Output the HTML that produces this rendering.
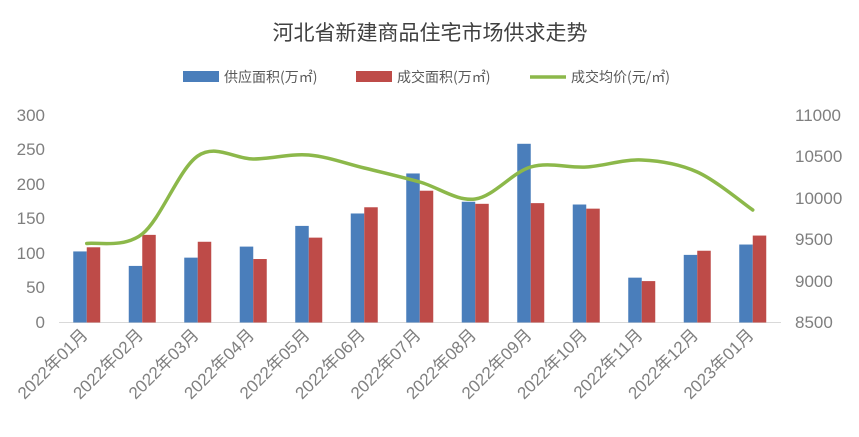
<!DOCTYPE html><html><head><meta charset="utf-8"><style>body{margin:0;background:#fff}</style></head><body>
<svg width="859" height="432" xmlns="http://www.w3.org/2000/svg" font-family="Liberation Sans, Noto Sans CJK SC, sans-serif">
<text x="430" y="40" text-anchor="middle" font-size="21" fill="#404040" font-family="Noto Sans CJK SC, sans-serif">河北省新建商品住宅市场供求走势</text>
<rect x="183" y="71" width="36" height="11" fill="#4a7ebb"/><text x="224" y="82" font-size="14" fill="#595959" font-family="Noto Sans CJK SC, sans-serif">供应面积(万㎡)</text>
<rect x="356" y="71" width="36" height="11" fill="#be4b48"/><text x="397" y="82" font-size="14" fill="#595959" font-family="Noto Sans CJK SC, sans-serif">成交面积(万㎡)</text>
<line x1="530" y1="77" x2="566" y2="77" stroke="#8cb84a" stroke-width="3.5"/><text x="571" y="82" font-size="14" fill="#595959" font-family="Noto Sans CJK SC, sans-serif">成交均价(元/㎡)</text>
<g font-size="17" fill="#7f7f7f" text-anchor="end">
<text x="45" y="121">300</text><text x="45" y="155">250</text><text x="45" y="190">200</text><text x="45" y="224">150</text><text x="45" y="259">100</text><text x="45" y="293">50</text><text x="45" y="328">0</text>
</g>
<g font-size="17" fill="#7f7f7f" text-anchor="start">
<text x="795" y="121">11000</text><text x="795" y="162">10500</text><text x="795" y="204">10000</text><text x="795" y="245">9500</text><text x="795" y="287">9000</text><text x="795" y="328">8500</text>
</g>
<line x1="59" y1="322.5" x2="781" y2="322.5" stroke="#d9d9d9"/>
<g id="bars"></g>
<path id="ln" fill="none" stroke="#8cb84a" stroke-width="3.5" stroke-linecap="round"/>
<g id="lbl" font-size="17" fill="#7f7f7f" font-family="Liberation Sans, Noto Sans CJK SC, sans-serif"></g>
</svg>
<script>
var b=[103,82,94,110,140,158,216,175,259,171,65,98,113],r=[109,127,117,92,123,167,191,172,173,165,60,104,126];
var ly=[243.5,234,156,159,155,168,182,199,167,167,160,172,210];
var labs=["2022年01月","2022年02月","2022年03月","2022年04月","2022年05月","2022年06月","2022年07月","2022年08月","2022年09月","2022年10月","2022年11月","2022年12月","2023年01月"];
var g=document.getElementById('bars'),L=document.getElementById('lbl'),s='',t='',P=[];
for(var i=0;i<13;i++){var c=86.75+55.5*i,hb=b[i]*0.69,hr=r[i]*0.69;
s+='<rect x="'+(c-13.5)+'" y="'+(322.5-hb)+'" width="13.5" height="'+hb+'" fill="#4a7ebb"/>';
s+='<rect x="'+c+'" y="'+(322.5-hr)+'" width="13.5" height="'+hr+'" fill="#be4b48"/>';
t+='<text transform="translate('+(c+2)+',336) rotate(-45)" text-anchor="end">'+labs[i]+'</text>';
P.push([c,ly[i]]);}
g.innerHTML=s;L.innerHTML=t;
var d='M'+P[0][0]+','+P[0][1];
for(i=0;i<12;i++){var p0=P[Math.max(i-1,0)],p1=P[i],p2=P[i+1],p3=P[Math.min(i+2,12)],k=6;
d+=' C'+(p1[0]+(p2[0]-p0[0])/k)+','+(p1[1]+(p2[1]-p0[1])/k)+' '+(p2[0]-(p3[0]-p1[0])/k)+','+(p2[1]-(p3[1]-p1[1])/k)+' '+p2[0]+','+p2[1];}
document.getElementById('ln').setAttribute('d',d);
</script>
</body></html>
